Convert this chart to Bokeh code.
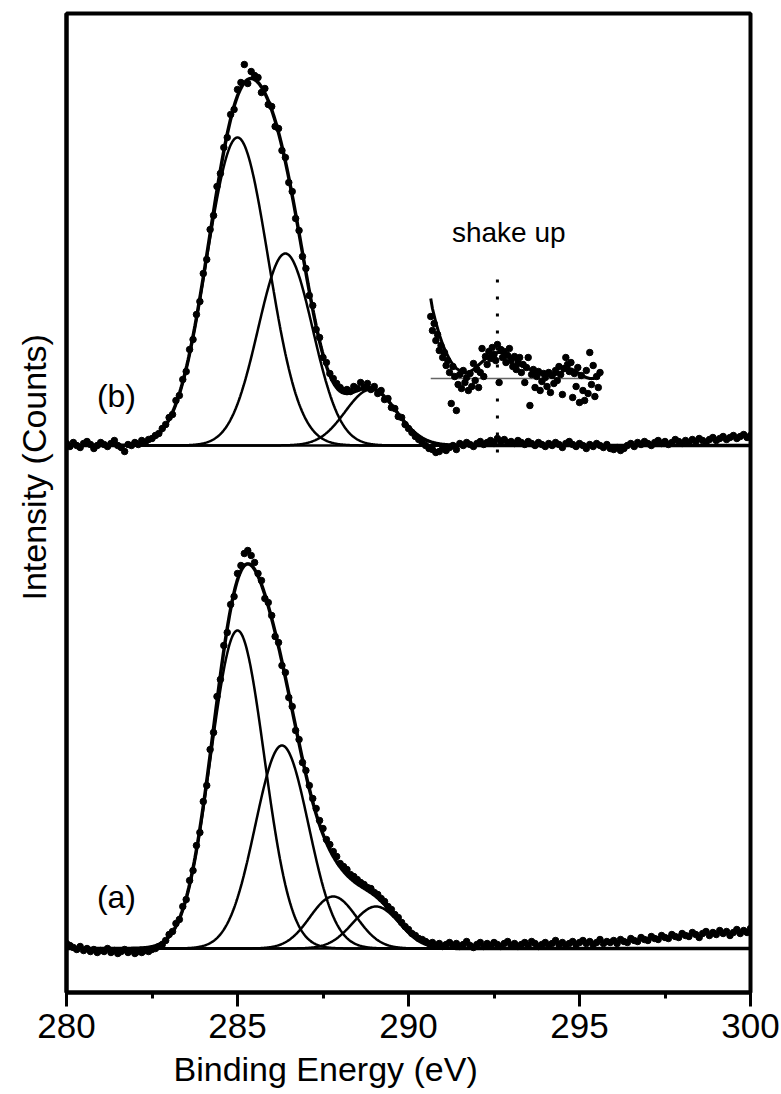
import numpy as np
from bokeh.plotting import figure
from bokeh.models import Range1d, SingleIntervalTicker, FixedTicker, Label, Title
from bokeh.embed import file_html
from bokeh.resources import INLINE

# ---------------- data ----------------
# measured energies: 280.0 ... 300.0 eV, 0.1 eV step
energy = np.round(np.arange(280.0, 300.05, 0.1), 1)

# spectrum (b): counts above its own baseline
data_b = [
    2, -1, 3, 0, -2, 2, 4, 1, -3, 0,
    3, 1, -1, 2, 5, 0, -2, -6, 1, 0,
    3, 1, 5, 3, 6, 7, 10, 12, 17, 21,
    28, 31, 45, 50, 66, 74, 96, 106, 131, 144,
    172, 186, 216, 230, 259, 272, 298, 308, 331, 336,
    356, 363, 381, 362, 374, 370, 368, 353, 357, 341,
    339, 319, 317, 295, 288, 263, 254, 227, 215, 189,
    177, 150, 140, 116, 108, 88, 83, 72, 67, 62,
    58, 55, 56, 54, 59, 57, 63, 58, 62, 56,
    59, 52, 55, 46, 47, 38, 37, 29, 28, 21,
    17, 13, 9, 6, 3, 0, -3, -4, -7, -6,
    -3, -5, -2, 0, -4, 2, 0, 3, 1, -1,
    2, 4, 1, 3, 5, 2, 7, 4, 6, 3,
    4, 2, 5, 3, 1, 4, 2, 0, 3, 1,
    -1, 2, 0, 3, 1, -2, 2, 4, 1, -1,
    2, 0, -3, 1, -1, 2, 0, -2, 1, -3,
    -4, -2, -5, -3, 0, 2, -1, 3, 1, 4,
    2, 0, 3, 5, 2, 4, 1, 3, 6, 4,
    2, 5, 3, 6, 4, 7, 5, 3, 6, 8,
    5, 7, 9, 6, 8, 10, 7, 9, 11, 8,
    10,
]

# spectrum (a): counts above its own baseline
data_a = [
    5, 3, 1, -1, 2, -2, 0, -3, -1, -4,
    -2, -3, 0, -4, -2, -5, -3, -1, -4, -2,
    -5, -3, -4, -2, -3, -1, 0, 2, 4, 8,
    14, 17, 25, 29, 42, 49, 68, 78, 103, 116,
    147, 163, 199, 216, 252, 269, 303, 316, 344, 352,
    375, 383, 395, 398, 393, 386, 375, 368, 350, 346,
    333, 312, 306, 283, 276, 251, 242, 218, 209, 186,
    178, 163, 150, 140, 128, 120, 109, 104, 97, 92,
    85, 82, 79, 74, 72, 69, 66, 64, 61, 60,
    56, 54, 50, 47, 42, 39, 34, 31, 26, 22,
    19, 15, 13, 10, 9, 7, 5, 6, 3, 5,
    2, 4, 6, 3, 5, 2, 4, 7, 3, 1,
    4, 6, 2, 5, 3, 6, 4, 2, 5, 7,
    3, 5, 2, 4, 6, 3, 7, 5, 2, 4,
    6, 3, 5, 8, 4, 6, 3, 5, 7, 4,
    6, 8, 5, 7, 4, 6, 9, 5, 7, 6,
    8, 5, 9, 7, 6, 10, 8, 7, 11, 9,
    8, 12, 10, 9, 13, 11, 10, 14, 12, 11,
    15, 13, 12, 16, 14, 11, 15, 17, 13, 16,
    14, 18, 15, 17, 13, 16, 19, 15, 18, 16,
    20,
]

# fitted Gaussian components (centre eV, height, sigma eV)
peaks_b_center = [285.0, 286.4, 288.9]
peaks_b_height = [308, 192, 56]
peaks_b_sigma = [0.9, 0.8, 0.75]

peaks_a_center = [285.0, 286.3, 287.8, 289.05]
peaks_a_height = [318, 203, 52, 42]
peaks_a_sigma = [0.78, 0.78, 0.68, 0.68]

# shake-up inset (magnified, relative to its own baseline)
inset_energy = np.round(290.65 + 0.05 * np.arange(100), 2)
inset_data = [
    62, 48, 55, 38, 44, 28, 33, 21, 26, 13,
    18, 6, -25, 12, 2, -32, -6, 4, -10, 8,
    -4, 1, -12, 5, -8, 15, -2, 9, -9, 6,
    30, 2, 22, 14, 27, 20, 31, 24, 18, 34,
    -4, 29, 21, 27, 16, 23, 30, 18, 12, 22,
    9, 15, 21, 6, 14, -4, 11, 21, -27, 4,
    9, -9, 2, 7, -12, -3, 5, 1, -8, 6,
    -14, 3, -5, 8, -2, 12, 4, -16, 10, 21,
    14, 7, 16, -19, 5, -8, 11, -24, 3, -12,
    -22, 8, -15, 26, -6, 13, -18, 2, -9, 6,
]
inset_fit_energy = [290.65, 290.7, 290.8, 290.9, 291.0, 291.1, 291.2, 291.3, 291.4, 291.5,
                    291.6, 291.7, 291.8, 291.9, 292.0, 292.1, 292.2, 292.3, 292.4, 292.5,
                    292.6, 292.7, 292.8, 292.9, 293.0, 293.1, 293.2, 293.3, 293.4, 293.5,
                    293.6, 293.7, 293.8, 293.9, 294.0, 294.1, 294.2, 294.3, 294.4, 294.5,
                    294.6, 294.7, 294.8, 294.9, 295.0, 295.1, 295.2, 295.3, 295.4, 295.5,
                    295.6]
inset_fit = [80, 70, 56, 44, 34, 26, 19, 14, 10, 8,
             6, 6, 7, 9, 12, 15, 18, 21, 23, 25,
             26, 26, 25, 24, 22, 20, 17, 15, 12, 10,
             8, 6, 5, 4, 3, 3, 3, 4, 5, 7,
             9, 10, 9, 7, 5, 3, 1, 0, 0, 1,
             3]
shake_up_energy = 292.6

x_ticks_interval = 5

# ---------------- layout constants ----------------
offset_b = 547      # baseline of spectrum (b)
offset_a = 44       # baseline of spectrum (a)
offset_inset = 614  # baseline of the magnified shake-up inset
FONT = "Liberation Sans"

p = figure(width=781, height=1094, output_backend="svg", toolbar_location=None,
           x_range=Range1d(280, 300), y_range=Range1d(0, 979),
           min_border_left=65, min_border_right=31, min_border_top=13, min_border_bottom=102)
p.background_fill_color = "white"
p.border_fill_color = "white"
p.outline_line_color = "black"
p.outline_line_width = 4
p.xgrid.visible = False
p.ygrid.visible = False

# x axis
xa = p.xaxis[0]
xa.ticker = SingleIntervalTicker(interval=x_ticks_interval, num_minor_ticks=2)
xa.axis_line_width = 4
xa.major_tick_out = 14
xa.major_tick_in = 0
xa.minor_tick_out = 6
xa.minor_tick_in = 0
xa.major_tick_line_width = 3
xa.minor_tick_line_width = 3
xa.major_label_text_font = FONT
xa.major_label_text_font_size = "35px"
xa.major_label_text_color = "black"
xa.major_label_standoff = 7

# x axis title (shifted left of centre as in the original)
p.add_layout(Title(text="Binding Energy (eV)", align="left", offset=107, standoff=14,
                   text_font=FONT, text_font_size="34px", text_font_style="normal",
                   text_color="black"), "below")

# y axis (no ticks); its title sits above the frame centre as in the original
ya = p.yaxis[0]
ya.ticker = FixedTicker(ticks=[])
ya.axis_line_width = 4
ya.major_tick_out = 0
ya.minor_tick_out = 0
p.add_layout(Title(text="Intensity (Counts)", align="left", offset=392, vertical_align="middle",
                   standoff=26, text_font=FONT, text_font_size="34px", text_font_style="normal",
                   text_color="black"), "left")

# fitted curves
x_fit = np.linspace(280, 300, 1001)


def gauss(c, h, s):
    return h * np.exp(-(x_fit - c) ** 2 / (2 * s * s))


for centers, heights, sigmas, off in ((peaks_b_center, peaks_b_height, peaks_b_sigma, offset_b),
                                      (peaks_a_center, peaks_a_height, peaks_a_sigma, offset_a)):
    total = np.zeros_like(x_fit)
    for c, h, s in zip(centers, heights, sigmas):
        comp = gauss(c, h, s)
        total += comp
        p.line(x_fit, comp + off, line_color="black", line_width=2.5)
    p.line([280, 300], [off, off], line_color="black", line_width=2.5)
    p.line(x_fit, total + off, line_color="black", line_width=3.5)

# measured points
p.scatter(energy, np.array(data_b) + offset_b, size=6.5, color="black")
p.scatter(energy, np.array(data_a) + offset_a, size=6.5, color="black")

# shake-up inset
p.line([inset_energy[0], inset_energy[-1]], [offset_inset, offset_inset],
       line_color="#666666", line_width=1.5)
p.scatter(inset_energy, np.array(inset_data) + offset_inset, size=6.5, color="black")
p.line(inset_fit_energy, np.array(inset_fit) + offset_inset, line_color="black", line_width=3)
p.segment(x0=[shake_up_energy], y0=[offset_b - 7], x1=[shake_up_energy], y1=[offset_inset + 103],
          line_color="black", line_width=3, line_dash="3 14")

# labels
p.add_layout(Label(x=292.93, y=offset_inset + 146, text="shake up", text_font=FONT,
                   text_font_size="28px", text_align="center", text_baseline="middle",
                   text_color="black"))
p.add_layout(Label(x=281.46, y=offset_b + 50, text="(b)", text_font=FONT,
                   text_font_size="32px", text_align="center", text_baseline="middle",
                   text_color="black"))
p.add_layout(Label(x=281.46, y=offset_a + 52, text="(a)", text_font=FONT,
                   text_font_size="32px", text_align="center", text_baseline="middle",
                   text_color="black"))

open("out.html", "w").write(file_html(p, INLINE))
